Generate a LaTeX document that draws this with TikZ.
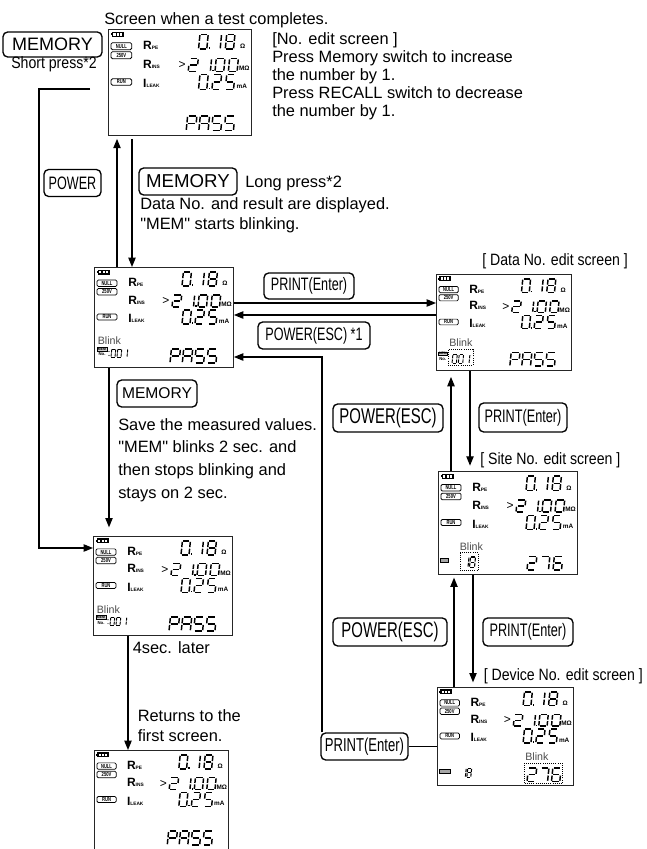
\documentclass[tikz,border=0pt]{standalone}
\usepackage{fontspec}
\setmainfont{Liberation Sans}
\newfontfamily\condf[FakeStretch=0.7]{Liberation Sans}
\newfontfamily\narrowf[FakeStretch=0.86]{Liberation Sans}
\usetikzlibrary{arrows.meta}
\newcommand\dq{\XeTeXglyph\XeTeXcharglyph"22\relax}

\tikzset{
  conn/.style={line width=0.9pt, -{Triangle[length=7pt,width=5.5pt]}},
  plainln/.style={line width=0.9pt},
  btn/.style={draw, line width=1pt, rounded corners=3.5pt, inner sep=0pt},
  lcd/.style={draw=black!85, line width=0.7pt, inner sep=0pt},
  txt/.style={anchor=base west, inner sep=0pt, font=\fontsize{12.3}{14}\selectfont},
  ntxt/.style={anchor=base west, inner sep=0pt, font=\narrowf\fontsize{12.3}{14}\selectfont},
  segline/.style={line width=1.1pt, line cap=butt},
  lcdtag/.style={draw, line width=0.55pt, rounded corners=1pt},
  tagtxt/.style={inner sep=0pt, font=\condf\fontsize{4.4}{4.4}\selectfont\bfseries},
  rlab/.style={anchor=west, inner sep=0pt, font=\fontsize{9}{9}\selectfont\bfseries},
  unit/.style={inner sep=0pt, font=\fontsize{4.8}{5}\selectfont\bfseries},
  blinktxt/.style={anchor=west, inner sep=0pt, font=\fontsize{8}{8}\selectfont, text=black!70},
  dotbox/.style={densely dotted, line width=0.6pt},
}

% seven segment parts (unit cell, v upward)
\newcommand\sgA{\draw[segline] (0.12,1)--(0.88,1);}
\newcommand\sgB{\draw[segline] (1,0.94)--(1,0.56);}
\newcommand\sgC{\draw[segline] (1,0.44)--(1,0.06);}
\newcommand\sgD{\draw[segline] (0.12,0)--(0.88,0);}
\newcommand\sgE{\draw[segline] (0,0.44)--(0,0.06);}
\newcommand\sgF{\draw[segline] (0,0.94)--(0,0.56);}
\newcommand\sgG{\draw[segline] (0.12,0.5)--(0.88,0.5);}
\expandafter\def\csname dz0\endcsname{A,B,C,D,E,F}
\expandafter\def\csname dz1\endcsname{B,C}
\expandafter\def\csname dz2\endcsname{A,B,G,E,D}
\expandafter\def\csname dz5\endcsname{A,F,G,C,D}
\expandafter\def\csname dz6\endcsname{A,F,G,E,D,C}
\expandafter\def\csname dz7\endcsname{A,B,C}
\expandafter\def\csname dz8\endcsname{A,B,C,D,E,F,G}
\expandafter\def\csname dzP\endcsname{A,B,E,F,G}
\expandafter\def\csname dzA\endcsname{A,B,C,E,F,G}
\expandafter\def\csname dzS\endcsname{A,F,G,C,D}

% \dgt[lw]{x}{ybottom}{w}{h}{char}
\newcommand\dgt[6][1.1pt]{%
  \begin{scope}[shift={(#2,#3)},x={(#4*0.75pt,0pt)},y={(0.1*#5*0.75pt,#5*0.75pt)},segline/.append style={line width=#1}]
    \edef\dzlist{\csname dz#6\endcsname}%
    \foreach \s in \dzlist {\csname sg\s\endcsname}%
  \end{scope}}
\newcommand\dpt[2]{\fill (#1-0.7,#2-1.6) rectangle (#1+0.7,#2);}
\newcommand\lsub[1]{{\fontsize{3.6}{4}\selectfont #1}}

\newcommand\lcdcommon{%
  \fill (3.5,2.5) rectangle (15.5,7.5);
  \fill (2.5,4) rectangle (3.5,6);
  \fill[white] (5.3,3.6) rectangle (7.3,6.4);
  \fill[white] (8.5,3.6) rectangle (10.5,6.4);
  \fill[white] (11.7,3.6) rectangle (13.7,6.4);
  \draw[lcdtag] (3,13) rectangle (23,19.5); \node[tagtxt] at (13,16.25) {NULL};
  \draw[lcdtag] (3,21.5) rectangle (23,28); \node[tagtxt] at (13,24.75) {250V};
  \draw[lcdtag] (3,47) rectangle (23,53); \node[tagtxt] at (13,50) {RUN};
  \node[rlab] at (34,15.5) {R\lsub{PE}};
  \node[rlab] at (34,33) {R\lsub{INS}};
  \node[rlab] at (34,51.5) {I\lsub{LEAK}};
  \dgt{88}{19}{8}{14}{0}\dgt{101}{19}{8}{14}{1}\dgt{114}{19}{8}{14}{8}\dpt{98.5}{19}
  \node[unit] at (131,16.5) {Ω};
  \node[inner sep=0pt, font=\fontsize{9}{9}\selectfont] at (72,34) {>};
  \dgt{78}{40}{8.5}{12}{2}\dgt{91}{40}{8.5}{12}{1}\dgt{104}{40}{8.5}{12}{0}\dgt{117}{40}{8.5}{12}{0}\dpt{102}{40}
  \node[unit] at (132.5,37.5) {MΩ};
  \dgt{88}{57}{8}{14}{0}\dgt{101}{57}{8}{14}{2}\dgt{114}{57}{8}{14}{5}\dpt{98.5}{57}
  \node[unit] at (130,54) {mA};
}
\newcommand\lpass{\dgt{76}{96}{9}{14}{P}\dgt{88.3}{96}{9}{14}{A}\dgt{100.6}{96}{9}{14}{S}\dgt{112.9}{96}{9}{14}{S}}
\newcommand\memicon[2]{%
  \draw[line width=0.3pt, fill=black!20] (#1,#2) rectangle (#1+10,#2+4);
  \node[inner sep=0pt, font=\fontsize{2.6}{3}\selectfont\bfseries] at (#1+5,#2+2) {MEM};
  \node[inner sep=0pt, font=\fontsize{3.2}{3.5}\selectfont\bfseries] at (#1+5,#2+7.5) {No.};}
\newcommand\vplain{\lpass}
\newcommand\vmem{%
  \node[blinktxt] at (3.5,74) {Blink};
  \memicon{3}{80}
  \fill (15,84.5) circle (0.6); \fill (15,88.5) circle (0.6);
  \dgt[0.7pt]{17}{90}{4}{8}{0}\dgt[0.7pt]{23}{90}{4}{8}{0}\dgt[0.7pt]{29}{90}{4}{8}{1}
  \lpass}
\newcommand\vdata{%
  \node[blinktxt] at (13.5,71.5) {Blink};
  \memicon{2}{81}
  \draw[dotbox] (12.5,79) rectangle (38,95);
  \dgt[0.7pt]{16.5}{93}{4.5}{9}{0}\dgt[0.7pt]{23}{93}{4.5}{9}{0}\dgt[0.7pt]{29.5}{93}{4.5}{9}{1}
  \lpass}
\newcommand\vsite{%
  \node[blinktxt] at (21.5,73) {Blink};
  \draw[line width=0.3pt, fill=black!35] (2,84.5) rectangle (10,88.5);
  \draw[dotbox] (22,79.5) rectangle (40,96.5);
  \dgt[0.8pt]{25}{93.5}{5}{10}{1}\dgt[0.8pt]{31.5}{93.5}{5}{10}{8}
  \dgt{89}{96}{8.5}{13}{2}\dgt{102}{96}{8.5}{13}{7}\dgt{115}{96}{8.5}{13}{6}}
\newcommand\vdev{%
  \node[blinktxt] at (90,71.5) {Blink};
  \draw[line width=0.3pt, fill=black!35] (2,83.5) rectangle (13,88);
  \dgt[0.8pt]{25}{92}{4}{9}{1}\dgt[0.8pt]{30.5}{92}{4}{9}{8}
  \draw[dotbox] (89,77.5) rectangle (128,98.5);
  \dgt{92}{96.5}{8.5}{14}{2}\dgt{104.5}{96.5}{8.5}{14}{7}\dgt{117}{96.5}{8.5}{14}{6}}

% \lcd[opts]{name}{x}{y}{w}{h}{variant}
\newcommand\lcd[7][lcd]{%
  \node[#1, anchor=north west, minimum width=#5*0.75pt, minimum height=#6*0.75pt] (#2) at (#3,#4) {};
  \begin{scope}[shift={(#3,#4)}, xscale=#5/139, yscale=#6/100]
    \lcdcommon #7
  \end{scope}}

\begin{document}
\begin{tikzpicture}[x=0.75pt,y=-0.75pt]
\fill[white] (0,0) rectangle (646,849);
\useasboundingbox (0,0) rectangle (646,849);

% ---------- screens ----------
\lcd{s1}{108}{29}{143}{106}{\vplain}
\lcd{s2}{94}{267}{139}{100}{\vmem}
\lcd{dat}{436}{274}{135}{96}{\vdata}
\lcd{site}{438}{471}{139}{103}{\vsite}
\lcd{dev}{437}{687}{136}{98}{\vdev}
\lcd{s4}{93}{536}{139}{99}{\vmem}
\lcd[draw=none, inner sep=0pt]{s5}{94}{750}{134}{99}{\vplain}
\draw[draw=black!85, line width=0.7pt] (s5.south west) -- (s5.north west) -- (s5.north east) -- (s5.south east);

% ---------- texts and keys ----------
\node[txt] (t0) at (104,25) {Screen when a test completes.};
\node[btn, font=\fontsize{13.5}{14}\selectfont, minimum width=99*0.75pt, minimum height=25*0.75pt] (mem1) at (52.5,44.5) {MEMORY};
\node[ntxt, anchor=base] (sp) at (54,68.5) {Short press*2};
\node[txt] (n1) at (272,45) {[No. edit screen ]};
\node[txt] (n2) at (272,62.5) {Press Memory switch to increase};
\node[txt] (n3) at (272,80.5) {the number by 1.};
\node[txt] (n4) at (272,98.5) {Press RECALL switch to decrease};
\node[txt] (n5) at (272,116) {the number by 1.};

\node[btn, font=\condf\fontsize{13.5}{14}\selectfont, minimum width=57*0.75pt, minimum height=27*0.75pt] (pw1) at (72.5,183) {POWER};
\node[btn, font=\fontsize{14}{15}\selectfont, minimum width=98*0.75pt, minimum height=27*0.75pt] (mem2) at (188,181.5) {MEMORY};
\node[txt] (lp) at (245,187.5) {Long press*2};
\node[txt] (dn1) at (140,209) {Data No. and result are displayed.};
\node[txt] (dn2) at (140,229) {\dq MEM\dq{} starts blinking.};

\node[btn, font=\condf\fontsize{13.5}{14}\selectfont, minimum width=90*0.75pt, minimum height=26*0.75pt] (pr1) at (309,286) {PRINT(Enter)};
\node[btn, font=\condf\fontsize{13.5}{14}\selectfont, minimum width=112*0.75pt, minimum height=27*0.75pt] (pe1) at (314,335.5) {POWER(ESC) *1};
\node[ntxt] (lbd) at (482,265) {[ Data No. edit screen ]};

\node[btn, font=\condf\fontsize{16}{17}\selectfont, minimum width=110*0.75pt, minimum height=28*0.75pt] (pe2) at (388,418) {POWER(ESC)};
\node[btn, font=\condf\fontsize{13.6}{15}\selectfont, minimum width=88*0.75pt, minimum height=29*0.75pt] (pr2) at (523,417.5) {PRINT(Enter)};
\node[ntxt] (lbs) at (480,464) {[ Site No. edit screen ]};

\node[btn, font=\condf\fontsize{16}{17}\selectfont, minimum width=114*0.75pt, minimum height=28*0.75pt] (pe3) at (390,632) {POWER(ESC)};
\node[btn, font=\condf\fontsize{13.6}{15}\selectfont, minimum width=90*0.75pt, minimum height=28*0.75pt] (pr3) at (528,632) {PRINT(Enter)};
\node[ntxt, anchor=base east] (lbv) at (643,680) {[ Device No. edit screen ]};
\node[btn, font=\condf\fontsize{14}{15}\selectfont, minimum width=87*0.75pt, minimum height=27*0.75pt] (pr4) at (364.5,746.5) {PRINT(Enter)};

\node[btn, font=\fontsize{11.7}{13}\selectfont, minimum width=80*0.75pt, minimum height=27*0.75pt] (mem3) at (157,393.5) {MEMORY};
\node[txt] (sv1) at (118,430) {Save the measured values.};
\node[txt] (sv2) at (118,452.7) {\dq MEM\dq{} blinks 2 sec. and};
\node[txt] (sv3) at (118,475.4) {then stops blinking and};
\node[txt] (sv4) at (118,498) {stays on 2 sec.};
\node[txt] (fs) at (132.5,653) {4sec. later};
\node[txt] (rt1) at (137.5,721.5) {Returns to the};
\node[txt] (rt2) at (137.5,741.5) {first screen.};

% ---------- connectors ----------
\coordinate (m1) at (90,89);
\coordinate (m1b) at (39,89);
\draw[conn] (m1) -- (m1b) |- (s4.north west |- 0,548);
\draw[conn, shorten >=2.2pt] (s2.north -| 117,0) -- (s1.south -| 117,0);
\draw[conn, shorten <=2.2pt] (s1.south -| 132,0) -- (s2.north -| 132,0);
\draw[conn] (s2.east |- 0,303) -- (dat.west |- 0,303);
\draw[conn] (dat.west |- 0,315) -- (s2.east |- 0,315);
\draw[conn, shorten >=4pt] (dat.south -| 470,0) -- (site.north -| 470,0);
\draw[conn, shorten >=4.5pt] (site.north -| 451,0) -- (dat.south -| 451,0);
\draw[conn, shorten >=3.5pt] (site.south -| 473,0) -- (dev.north -| 473,0);
\draw[conn, shorten >=2pt] (dev.north -| 454,0) -- (site.south -| 454,0);
\draw[plainln] (dev.west |- pr4.east) -- (pr4.east);
\draw[conn] (pr4.north west -| 322,0) |- (s2.east |- 0,357);
\draw[conn, shorten >=6.5pt] (s2.south -| 109,0) -- (s4.north -| 109,0);
\draw[conn] (s4.south -| 128,0) -- (s5.north -| 128,0);
\end{tikzpicture}
\end{document}
